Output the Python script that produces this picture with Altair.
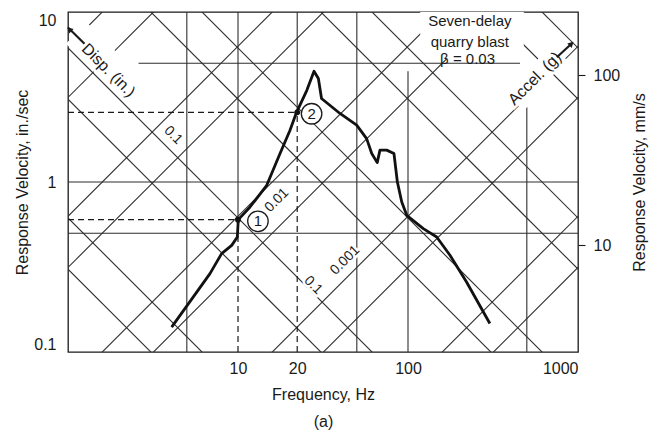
import altair as alt
import pandas as pd
import math

FONT = "Liberation Sans"
INK = "#1a1a1a"
GRID = "#2e2e2e"

# ---------------- data ----------------
x_tick_values = [10, 22.3, 100, 1000]
x_tick_labels = ["10", "20", "100", "1000"]
y_tick_values = [0.1, 1, 10]
y_tick_labels = ["0.1", "1", "10"]
mm_tick_values = [10, 100]
mm_per_in_axis = 23.5  # right-axis placement as drawn

# response spectrum curve (Hz, in./sec)
curve_f = [4.07, 5.46, 6.84, 8.01, 9.18, 9.91, 10.04, 11.77, 14.76, 17.67, 20.2, 22.1,
           25.4, 28.0, 29.7, 31.0, 39.8, 49.9, 57.1, 61.2, 65.9, 68.4, 74.9, 82.7,
           86.6, 91.9, 98.3, 123, 147.5, 176.6, 221, 303]
curve_v = [0.140, 0.211, 0.289, 0.379, 0.424, 0.475, 0.601, 0.713, 0.956, 1.47, 2.01, 2.57,
           3.46, 4.48, 4.06, 3.10, 2.53, 2.16, 1.80, 1.47, 1.30, 1.54, 1.54, 1.47,
           1.00, 0.763, 0.637, 0.532, 0.475, 0.371, 0.258, 0.147]

# marked points 1 and 2
pt_f = [10.0, 22.3]
pt_v = [0.60, 2.57]
pt_names = ["1", "2"]
circ_f = [13.1, 27.1]
circ_v = [0.587, 2.52]

# tripartite grid values
disp_in = [1, 0.5, 0.1, 0.05, 0.01, 0.005, 0.001, 0.0005, 0.0001, 0.00005]
accel_g = [100, 50, 10, 5, 1, 0.5, 0.1, 0.05, 0.01, 0.005]
G_IN = 386.09

# horizontal grid segments: V, f_start, f_end
h_v = [1, 0.5, 5]
h_f1 = [1, 1, 2.6]
h_f2 = [1000, 1000, 456]
# vertical grid segments: f, V_bottom, V_top
v_f = [5, 50, 100, 500, 10, 22.3]
v_v1 = [0.1, 0.1, 0.1, 0.1, 0.60, 2.57]
v_v2 = [10, 10, 4.48, 2.75, 10, 10]

# dashed guides
dh_v = [0.60, 2.57]
dh_f2 = [10.0, 22.3]
dv_f = [10.0, 22.3]
dv_v2 = [0.60, 2.57]

# rotated labels: text, f, V, angle
lab_text = ["0.1", "0.01", "0.1", "0.001", "Disp. (in.)", "Accel. (g)"]
lab_f = [4.16, 16.9, 27.7, 42.6, 1.73, 558]
lab_v = [1.88, 0.78, 0.247, 0.346, 4.54, 4.06]
lab_angle = [45, 315, 45, 315, 45, 315]
lab_size = [14, 14, 14, 14, 16, 16]

# note box
note_lines = ["Seven-delay", "quarry blast", "\u03b2 = 0.03"]
note_f = [231, 231, 224]
note_v = [8.9, 6.7, 5.3]

# ---------------- tables ----------------
rows = []
for d in disp_in:
    for f in (1, 1000):
        rows.append({"id": f"d{d}", "f": f, "V": 2 * math.pi * f * d})
for a in accel_g:
    for f in (1, 1000):
        rows.append({"id": f"a{a}", "f": f, "V": G_IN * a / (2 * math.pi * f)})
diag = pd.DataFrame(rows)

curve = pd.DataFrame({"f": curve_f, "V": curve_v})
hgrid = pd.DataFrame({"V": h_v, "f": h_f1, "f2": h_f2})
vgrid = pd.DataFrame({"f": v_f, "V": v_v1, "V2": v_v2})
dashh = pd.DataFrame({"V": dh_v, "f": [1, 1], "f2": dh_f2})
dashv = pd.DataFrame({"f": dv_f, "V": [0.1, 0.1], "V2": dv_v2})
pts = pd.DataFrame({"f": pt_f, "V": pt_v})
circ = pd.DataFrame({"f": circ_f, "V": circ_v, "t": pt_names})
labs = pd.DataFrame({"t": lab_text, "f": lab_f, "V": lab_v, "ang": lab_angle, "sz": lab_size})
notes = pd.DataFrame({"t": note_lines, "f": note_f, "V": note_v})

# masks behind labels
mask_box = pd.DataFrame({"f": [118], "f2": [480], "V": [5.3], "V2": [10]})
mask_disp = pd.DataFrame({"f": [1.122, 2.51], "V": [7.5, 3.35]})
mask_acc = pd.DataFrame({"f": [430, 760], "V": [2.9, 5.8]})
arrows = pd.DataFrame({"id": ["d", "d", "a", "a"], "f": [1.0, 1.25, 751, 922], "V": [8.1, 6.5, 5.42, 6.55]})
heads = pd.DataFrame({"f": [1.02, 915], "V": [7.9, 6.5], "ang": [315, 45]})

def tick_expr(vals, labels):
    parts = [f"abs(datum.value - {v}) < {v * 0.02} ? '{l}'" for v, l in zip(vals, labels)]
    return " : ".join(parts) + " : ''"

xscale = alt.Scale(type="log", domain=[1, 1000], nice=False)
yscale = alt.Scale(type="log", domain=[0.1, 10], nice=False)

xaxis = alt.Axis(values=x_tick_values, labelExpr=tick_expr(x_tick_values, x_tick_labels),
                 ticks=False, domain=False, grid=False, labelFont=FONT, labelFontSize=16,
                 labelColor=INK, labelPadding=8, title=["Frequency,  Hz", "(a)"],
                 titleFont=FONT, titleFontSize=16, titleFontWeight="normal", titleColor=INK,
                 titlePadding=10, titleLineHeight=27)
yaxis = alt.Axis(values=y_tick_values, labelExpr=tick_expr(y_tick_values, y_tick_labels),
                 ticks=False, domain=False, grid=False, labelFont=FONT, labelFontSize=16,
                 labelColor=INK, labelPadding=12, labelFlush=True,
                 title="Response Velocity,  in./sec", titleFont=FONT, titleFontSize=16,
                 titleFontWeight="normal", titleColor=INK, titlePadding=3)

def X(field="f"):
    return alt.X(f"{field}:Q", scale=xscale, axis=xaxis)

def Y(field="V"):
    return alt.Y(f"{field}:Q", scale=yscale, axis=yaxis)

diag_layer = alt.Chart(diag).mark_line(clip=True, color=GRID, strokeWidth=1.1).encode(
    x=X(), y=Y(), detail="id:N")
vgrid_layer = alt.Chart(vgrid).mark_rule(color=GRID, strokeWidth=1.1).encode(
    x=X(), y=Y(), y2="V2:Q")
mask_disp_layer = alt.Chart(mask_disp).mark_line(color="white", strokeWidth=30, strokeCap="butt").encode(
    x=X(), y=Y())
mask_acc_layer = alt.Chart(mask_acc).mark_line(color="white", strokeWidth=22, strokeCap="butt").encode(
    x=X(), y=Y())
mask_box_layer = alt.Chart(mask_box).mark_rect(color="white").encode(
    x=X(), x2="f2:Q", y=Y(), y2="V2:Q")
hgrid_layer = alt.Chart(hgrid).mark_rule(color=GRID, strokeWidth=1.1).encode(
    x=X(), x2="f2:Q", y=Y())
dashh_layer = alt.Chart(dashh).mark_rule(color=INK, strokeWidth=1.2, strokeDash=[6, 4]).encode(
    x=X(), x2="f2:Q", y=Y())
dashv_layer = alt.Chart(dashv).mark_rule(color=INK, strokeWidth=1.2, strokeDash=[6, 4]).encode(
    x=X(), y=Y(), y2="V2:Q")
curve_layer = alt.Chart(curve).mark_line(color="#111", strokeWidth=2.8, strokeJoin="round").encode(
    x=X(), y=Y())
pts_layer = alt.Chart(pts).mark_point(shape="circle", filled=True, color="#111", size=34, opacity=1).encode(
    x=X(), y=Y())
circ_layer = alt.Chart(circ).mark_point(shape="circle", size=420, fill="white", stroke=INK,
                                        strokeWidth=1.3, fillOpacity=1, opacity=1).encode(x=X(), y=Y())
circ_text = alt.Chart(circ).mark_text(font=FONT, fontSize=15, color=INK, baseline="middle").encode(
    x=X(), y=Y(), text="t:N")
lab_halo = alt.Chart(labs).mark_text(font=FONT, stroke="white", strokeWidth=5, fill="white",
                                     baseline="middle").encode(
    x=X(), y=Y(), text="t:N", angle=alt.Angle("ang:Q", scale=None), size=alt.Size("sz:Q", scale=None))
lab_text_layer = alt.Chart(labs).mark_text(font=FONT, color=INK, baseline="middle").encode(
    x=X(), y=Y(), text="t:N", angle=alt.Angle("ang:Q", scale=None), size=alt.Size("sz:Q", scale=None))
note_layer = alt.Chart(notes).mark_text(font=FONT, fontSize=15, color=INK, baseline="middle").encode(
    x=X(), y=Y(), text="t:N")
arrow_layer = alt.Chart(arrows).mark_line(color=INK, strokeWidth=2.2).encode(
    x=X(), y=Y(), detail="id:N")
head_layer = alt.Chart(heads).mark_point(shape="triangle-up", filled=True, color=INK, size=40, opacity=1).encode(
    x=X(), y=Y(), angle=alt.Angle("ang:Q", scale=None))

main = alt.layer(diag_layer, vgrid_layer, mask_disp_layer, mask_acc_layer, mask_box_layer,
                 hgrid_layer, dashh_layer, dashv_layer, curve_layer, pts_layer, circ_layer,
                 circ_text, lab_halo, lab_text_layer, note_layer, arrow_layer, head_layer)

right = alt.Chart(pd.DataFrame({"mm": mm_tick_values})).mark_point(opacity=0).encode(
    y=alt.Y("mm:Q", scale=alt.Scale(type="log", domain=[0.1 * mm_per_in_axis, 10 * mm_per_in_axis], nice=False),
            axis=alt.Axis(orient="right", values=mm_tick_values, format="d", ticks=True, tickSize=7,
                          tickColor=INK, tickWidth=1.1, domain=False, grid=False, labelFont=FONT,
                          labelFontSize=16, labelColor=INK, labelPadding=8,
                          title="Response Velocity,  mm/s", titleFont=FONT, titleFontSize=16,
                          titleFontWeight="normal", titleColor=INK, titleAngle=270, titlePadding=28)))

chart = alt.layer(main, right).resolve_scale(y="independent").properties(
    width=510, height=340,
    autosize=alt.AutoSizeParams(type="none"),
    padding={"left": 68, "top": 12, "right": 78, "bottom": 85},
    background="white",
).configure_view(stroke=INK, strokeWidth=1.3)

chart.save("out.html", embed_options={"renderer": "svg", "actions": False})
